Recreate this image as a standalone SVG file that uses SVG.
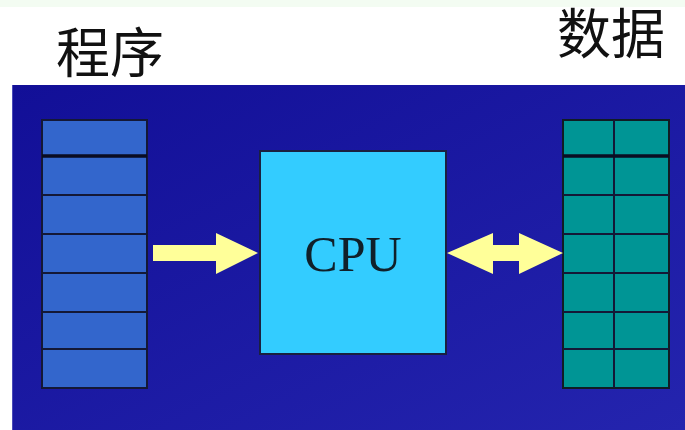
<svg xmlns="http://www.w3.org/2000/svg" width="685" height="430" viewBox="0 0 685 430">
  <defs>
    <linearGradient id="panelGrad" x1="0" y1="0" x2="1" y2="1">
      <stop offset="0" stop-color="#120f97"/>
      <stop offset="1" stop-color="#2424ae"/>
    </linearGradient>
    <style>
      .title { font-family: "Noto Sans CJK SC", "Noto Sans CJK JP", sans-serif; font-size: 54px; fill: #111111; }
      .cell-prog { fill: #3366cc; stroke: #141836; stroke-width: 2; }
      .cell-data { fill: #009595; stroke: #101c24; stroke-width: 2; }
      .sep { stroke: #141836; stroke-width: 2; }
      .sep-thick { stroke: #0a0c22; stroke-width: 3.5; }
      .cpu-box { fill: #33ccff; stroke: #1a2040; stroke-width: 2; }
      .cpu-label { font-family: "Liberation Serif", "Times New Roman", serif; font-size: 50px; fill: #10202a; }
      .flow { fill: #ffff99; }
    </style>
  </defs>

  <!-- page background -->
  <rect x="0" y="0" width="685" height="430" fill="#ffffff"/>
  <rect x="0" y="0" width="685" height="7" fill="#f3fcf2"/>

  <!-- headings -->
  <text class="title" x="56" y="73">程序</text>
  <text class="title" x="557" y="54">数据</text>

  <!-- dark stage panel -->
  <rect x="12" y="85" width="673" height="345" fill="url(#panelGrad)"/>
  <line x1="12.5" y1="85" x2="12.5" y2="430" stroke="#4a4ab8" stroke-width="1"/>

  <!-- program memory column -->
  <g id="program">
    <rect class="cell-prog" x="42" y="120" width="105" height="268"/>
    <line class="sep-thick" x1="42" y1="156" x2="147" y2="156"/>
    <line class="sep" x1="42" y1="195" x2="147" y2="195"/>
    <line class="sep" x1="42" y1="234" x2="147" y2="234"/>
    <line class="sep" x1="42" y1="273" x2="147" y2="273"/>
    <line class="sep" x1="42" y1="312" x2="147" y2="312"/>
    <line class="sep" x1="42" y1="349" x2="147" y2="349"/>
  </g>

  <!-- processor -->
  <g id="cpu">
    <rect class="cpu-box" x="260" y="151" width="186" height="203"/>
    <text class="cpu-label" x="353" y="271" text-anchor="middle">CPU</text>
  </g>

  <!-- data memory column -->
  <g id="data">
    <rect class="cell-data" x="563" y="120" width="106" height="268"/>
    <line class="sep" x1="614" y1="120" x2="614" y2="388"/>
    <line class="sep-thick" x1="563" y1="156" x2="669" y2="156"/>
    <line class="sep" x1="563" y1="195" x2="669" y2="195"/>
    <line class="sep" x1="563" y1="234" x2="669" y2="234"/>
    <line class="sep" x1="563" y1="273" x2="669" y2="273"/>
    <line class="sep" x1="563" y1="312" x2="669" y2="312"/>
    <line class="sep" x1="563" y1="349" x2="669" y2="349"/>
  </g>

  <!-- connectors -->
  <g id="connectors">
    <polygon class="flow" points="153,245 216,245 216,233 258,253 216,274 216,261 153,261"/>
    <polygon class="flow" points="447,253 493,233 493,245 519,245 519,233 563,253 519,274 519,261 493,261 493,274"/>
  </g>
</svg>
